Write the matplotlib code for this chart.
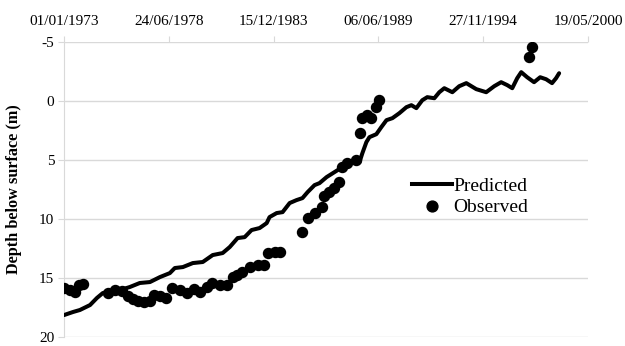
import numpy as np
import pandas as pd
import matplotlib
matplotlib.use('Agg')
import matplotlib.pyplot as plt
import matplotlib.dates as mdates
from matplotlib.lines import Line2D

# predicted water level (decimal year, depth m)
pred_year = [1973.00, 1973.47, 1973.83, 1974.36, 1974.72, 1975.03, 1975.39, 1975.92,
             1976.44, 1976.96, 1977.49, 1978.01, 1978.53, 1978.79, 1979.21, 1979.73,
             1980.25, 1980.77, 1981.29, 1981.66, 1982.07, 1982.44, 1982.80, 1983.22,
             1983.59, 1983.74, 1984.11, 1984.42, 1984.79, 1985.15, 1985.46, 1985.73,
             1986.09, 1986.35, 1986.72, 1987.13, 1987.55, 1988.02, 1988.44, 1988.59,
             1988.80, 1988.96, 1989.32, 1989.58, 1989.85, 1990.16, 1990.52, 1990.89,
             1991.15, 1991.41, 1991.72, 1991.98, 1992.35, 1992.61, 1992.87, 1993.29,
             1993.65, 1994.02, 1994.54, 1995.06, 1995.48, 1995.84, 1996.16, 1996.42,
             1996.68, 1996.89, 1997.20, 1997.56, 1997.88, 1998.19, 1998.50, 1998.71,
             1998.87]
pred_depth = [18.14, 17.88, 17.71, 17.29, 16.69, 16.27, 16.19, 16.02,
              15.76, 15.42, 15.34, 14.92, 14.58, 14.15, 14.07, 13.73,
              13.64, 13.05, 12.88, 12.37, 11.61, 11.53, 10.93, 10.76,
              10.34, 9.83, 9.49, 9.41, 8.64, 8.39, 8.22, 7.71,
              7.12, 6.95, 6.44, 6.02, 5.59, 5.25, 5.17, 4.41,
              3.47, 3.05, 2.80, 2.20, 1.61, 1.44, 1.02, 0.51,
              0.34, 0.59, -0.08, -0.34, -0.25, -0.76, -1.10, -0.76,
              -1.27, -1.53, -1.02, -0.76, -1.27, -1.61, -1.36, -1.10,
              -1.95, -2.46, -2.03, -1.61, -2.03, -1.86, -1.53, -1.95,
              -2.37]

# observed water level
obs_year = [1973.00, 1973.31, 1973.57, 1973.78, 1973.99,
            1975.29, 1975.66, 1976.02, 1976.34, 1976.60, 1976.86, 1977.17, 1977.49,
            1977.69, 1978.01, 1978.32, 1978.63, 1979.05, 1979.41, 1979.78, 1980.09,
            1980.46, 1980.72, 1981.14, 1981.50, 1981.81, 1982.02, 1982.28, 1982.70,
            1983.12, 1983.43, 1983.64, 1984.00, 1984.27,
            1985.41, 1985.73, 1986.09, 1986.46, 1986.61, 1986.87, 1987.13, 1987.39,
            1987.55, 1987.81, 1988.28, 1988.44, 1988.59, 1988.85, 1989.06, 1989.32,
            1989.48, 1997.30, 1997.46]
obs_depth = [15.85, 16.02, 16.19, 15.59, 15.51,
             16.27, 16.02, 16.10, 16.53, 16.78, 16.95, 17.03, 16.95,
             16.44, 16.53, 16.69, 15.85, 16.02, 16.27, 15.93, 16.19,
             15.76, 15.42, 15.59, 15.59, 14.92, 14.75, 14.49, 14.07,
             13.90, 13.90, 12.88, 12.80, 12.80,
             11.10, 9.92, 9.49, 8.98, 8.05, 7.71, 7.37, 6.86,
             5.59, 5.25, 5.00, 2.71, 1.44, 1.19, 1.44, 0.51,
             -0.08, -3.73, -4.58]

tick_dates = ['1973-01-01', '1978-06-24', '1983-12-15', '1989-06-06', '1994-11-27', '2000-05-19']
y_ticks = [-5, 0, 5, 10, 15, 20]


def to_date(years):
    years = np.asarray(years)
    return pd.Timestamp('1973-01-01') + pd.to_timedelta((years - 1973.0) * 365.25, unit='D')


plt.rcParams['font.family'] = ['Liberation Serif', 'DejaVu Serif']
plt.rcParams['axes.unicode_minus'] = False

fig = plt.figure(figsize=(6.25, 3.46), dpi=100)
ax = fig.add_axes([0.1024, 0.026, 0.8384, 0.852])

ax.plot(to_date(pred_year), pred_depth, color='black', lw=2.9, solid_capstyle='round',
        solid_joinstyle='round', zorder=3)
ax.scatter(to_date(obs_year), obs_depth, s=52, color='black', zorder=4)

ax.set_xlim(pd.Timestamp(tick_dates[0]), pd.Timestamp(tick_dates[-1]))
ax.set_ylim(20, -5)
ax.set_yticks(y_ticks)
ax.set_xticks([pd.Timestamp(d) for d in tick_dates])
ax.xaxis.set_major_formatter(mdates.DateFormatter('%d/%m/%Y'))
ax.xaxis.tick_top()

grid_c = '#d9d9d9'
ax.grid(axis='y', color=grid_c, lw=1)
ax.set_axisbelow(True)
for s in ['top', 'right', 'bottom']:
    ax.spines[s].set_visible(False)
ax.spines['left'].set_color(grid_c)
ax.tick_params(axis='x', colors=grid_c, labelcolor='black', labelsize=11, length=4, pad=6)
ax.tick_params(axis='y', colors=grid_c, labelcolor='black', labelsize=11, length=4, pad=3)
ax.set_ylabel('Depth below surface (m)', fontsize=11.7, fontweight='bold', labelpad=12)

handles = [Line2D([], [], color='black', lw=2.9),
           Line2D([], [], color='black', marker='o', ls='none', markersize=7.8)]
ax.legend(handles, ['Predicted', 'Observed'], loc='center left',
          bbox_to_anchor=(0.664, 0.475), frameon=False, fontsize=14,
          handlelength=2.05, handletextpad=0.08, labelspacing=0.18, borderpad=0,
          borderaxespad=0)

fig.savefig('out.png', dpi=100)
